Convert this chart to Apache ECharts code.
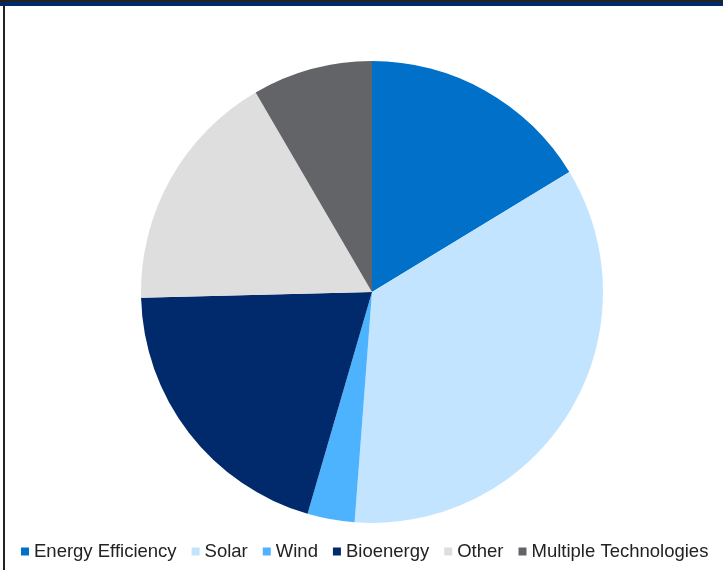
<!DOCTYPE html>
<html>
<head>
<meta charset="utf-8">
<script src="https://cdn.jsdelivr.net/npm/echarts@6/dist/echarts.min.js"></script>
<style>
html,body{margin:0;padding:0;background:#fff;}
#chart{width:723px;height:570px;}
</style>
</head>
<body>
<div id="chart"></div>
<script>
const categories = ['Energy Efficiency', 'Solar', 'Wind', 'Bioenergy', 'Other', 'Multiple Technologies'];
const shares = [16.3, 34.9, 3.3, 20.1, 17.0, 8.4];
const colors = ['#0070C8', '#C3E4FF', '#4DB3FF', '#002A6C', '#DEDEDE', '#636467'];

const chart = echarts.init(document.getElementById('chart'), null, {renderer: 'canvas'});
chart.setOption({
  backgroundColor: '#ffffff',
  animation: false,
  color: colors,
  graphic: [
    {type: 'rect', shape: {x: 0, y: 0, width: 723, height: 2}, style: {fill: '#222222'}, silent: true},
    {type: 'rect', shape: {x: 0, y: 2, width: 723, height: 4}, style: {fill: '#002A6C'}, silent: true},
    {type: 'rect', shape: {x: 3, y: 2, width: 2, height: 568}, style: {fill: '#222222'}, silent: true}
  ],
  legend: {
    data: categories,
    left: 21,
    top: 537,
    width: 700,
    padding: [5, 0, 5, 0],
    itemWidth: 8,
    itemHeight: 8,
    itemGap: 15,
    icon: 'rect',
    textStyle: {fontFamily: 'Liberation Sans, Arial, sans-serif', fontSize: 18.5, color: '#222222', padding: [0, 0, 0, 0]}
  },
  series: [{
    type: 'pie',
    center: [372, 292],
    radius: [0, 231],
    startAngle: 90,
    clockwise: true,
    label: {show: false},
    labelLine: {show: false},
    emphasis: {disabled: true},
    itemStyle: {borderWidth: 0},
    data: categories.map((c, i) => ({name: c, value: shares[i]}))
  }]
});
</script>
</body>
</html>
